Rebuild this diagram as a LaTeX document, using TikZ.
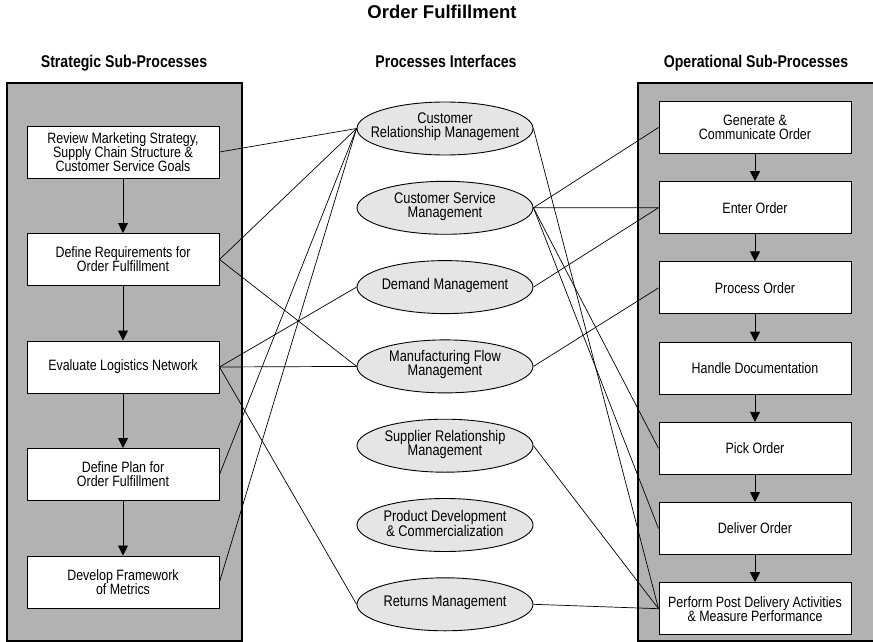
\documentclass[tikz,border=0pt]{standalone}
\usepackage{fontspec}
\setmainfont{Liberation Sans}[FakeStretch=0.83]
\newfontfamily\titlefamily{Liberation Sans}
\usepackage{tikz}
\usetikzlibrary{shapes.geometric,positioning,arrows.meta}
\definecolor{panelgray}{RGB}{178,178,178}
\definecolor{ifacegray}{RGB}{229,229,229}
\newcommand{\boxfont}{\fontsize{15}{14}\selectfont}
\newcommand{\ifacefont}{\fontsize{15.4}{14}\selectfont}
\newcommand{\headfont}{\bfseries\fontsize{17}{18}\selectfont}
\def\titlefont{\titlefamily\bfseries\fontsize{18.5}{22}\selectfont}

\begin{document}
\begin{tikzpicture}
        [x=1pt, y=-1pt,
         block/.style={draw, line width=1pt, fill=white, minimum width=192pt, minimum height=52pt, inner sep=0pt, align=center, font=\boxfont},
         iface/.style={ellipse, draw, line width=0.9pt, fill=ifacegray, minimum width=176pt, minimum height=53pt, inner sep=0pt},
         itext/.style={align=center, font=\ifacefont, yshift=1.5pt},
         head/.style={font=\headfont, anchor=base},
         panel/.style={draw, line width=1.2pt, fill=panelgray},
         flow/.style={line width=0.9pt, -{Triangle[width=10pt,length=10pt]}},
         link/.style={line width=0.7pt}]
        \useasboundingbox (0,0) rectangle (873,642);

        % titles
        \node [font=\titlefont, anchor=base] (title) at (442,19) {Order Fulfillment};
        \node [head] (strathead) at (124,67) {Strategic Sub-Processes};
        \node [head] (ifhead)    at (446,67) {Processes Interfaces};
        \node [head] (ophead)    at (756,67) {Operational Sub-Processes};

        % panels
        \draw [panel] (7,83) rectangle (242,641);
        \draw [panel] (638,83) rectangle (880,641);

        % strategic sub-processes
        \node [block] (review)  at (123,152)              {Review Marketing Strategy,\\Supply Chain Structure \&\\Customer Service Goals};
        \node [block] (require) [below=54.5pt of review]  {Define Requirements for\\Order Fulfillment};
        \node [block] (network) [below=54.5pt of require] {Evaluate Logistics Network};
        \node [block] (plan)    [below=54.5pt of network] {Define Plan for\\Order Fulfillment};
        \node [block] (metrics) [below=54.5pt of plan]    {Develop Framework\\of Metrics};

        % process interfaces
        \node [iface, label={[itext]center:Customer\\Relationship Management}] (crm) at (445,128.5) {};
        \node [iface, label={[itext]center:Customer Service\\Management}] (csm) [below=25.4pt of crm] {};
        \node [iface, label={[itext]center:Demand Management}] (dm) [below=25.4pt of csm] {};
        \node [iface, label={[itext]center:Manufacturing Flow\\Management}] (mfm) [below=25.4pt of dm] {};
        \node [iface, label={[itext]center:Supplier Relationship\\Management}] (srm) [below=25.4pt of mfm] {};
        \node [iface, label={[itext]center:Product Development\\\& Commercialization}] (pdc) [below=25.4pt of srm] {};
        \node [iface, label={[itext]center:Returns Management}] (rm) [below=25.4pt of pdc] {};

        % operational sub-processes
        \node [block] (generate) at (755,127.5)               {Generate \&\\Communicate Order};
        \node [block] (enter)    [below=27.2pt of generate]   {Enter Order};
        \node [block] (process)  [below=27.2pt of enter]      {Process Order};
        \node [block] (handle)   [below=27.2pt of process]    {Handle Documentation};
        \node [block] (pick)     [below=27.2pt of handle]     {Pick Order};
        \node [block] (deliver)  [below=27.2pt of pick]       {Deliver Order};
        \node [block] (perform)  [below=27.2pt of deliver]    {Perform Post Delivery Activities\\\& Measure Performance};

        \draw[flow] (review) edge (require);
        \draw[flow] (require) edge (network);
        \draw[flow] (network) edge (plan);
        \draw[flow] (plan) edge (metrics);

        \draw[flow] (generate) edge (enter);
        \draw[flow] (enter) edge (process);
        \draw[flow] (process) edge (handle);
        \draw[flow] (handle) edge (pick);
        \draw[flow] (pick) edge (deliver);
        \draw[flow] (deliver) edge (perform);

        % strategic -- interfaces
        \draw[link] (review.east) -- (crm.west);
        \draw[link] (require.east) -- (crm.west);
        \draw[link] (require.east) -- (mfm.west);
        \draw[link] (network.east) -- (dm.west);
        \draw[link] (network.east) -- (mfm.west);
        \draw[link] (network.east) -- (rm.west);
        \draw[link] (plan.east) -- (crm.west);
        \draw[link] (metrics.east) -- (crm.west);

        % interfaces -- operational
        \draw[link] (crm.east) -- (perform.west);
        \draw[link] (csm.east) -- (generate.west);
        \draw[link] (csm.east) -- (enter.west);
        \draw[link] (csm.east) -- (pick.west);
        \draw[link] (csm.east) -- (deliver.west);
        \draw[link] (dm.east) -- (enter.west);
        \draw[link] (mfm.east) -- (process.west);
        \draw[link] (srm.east) -- (perform.west);
        \draw[link] (rm.east) -- (perform.west);
\end{tikzpicture}
\end{document}
